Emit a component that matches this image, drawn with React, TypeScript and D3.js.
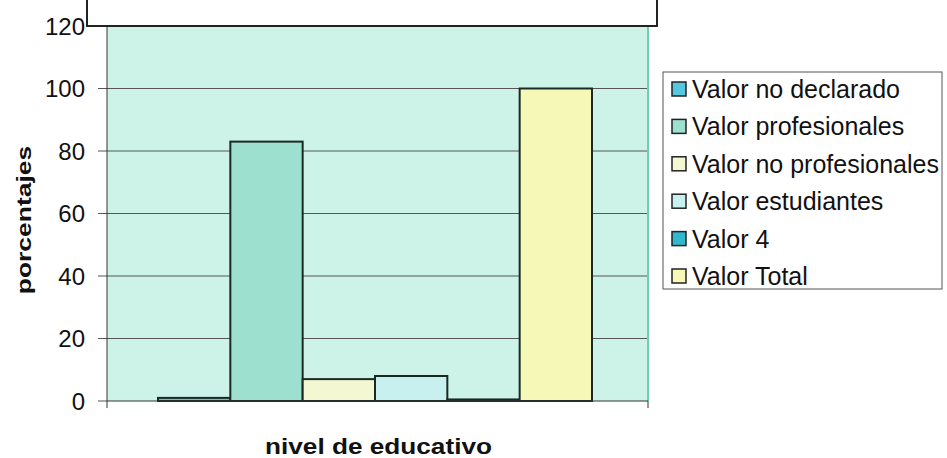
import React from "react";
import * as d3 from "d3";

const categories = ["nivel de educativo"];
const seriesNames = [
  "Valor no declarado",
  "Valor profesionales",
  "Valor no profesionales",
  "Valor estudiantes",
  "Valor 4",
  "Valor Total",
];
const seriesValues = [1, 83, 7, 8, 0.5, 100];
const seriesColors = ["#55c8e0", "#9de0d0", "#f4f8d2", "#c8f0ee", "#30b8cc", "#f6f8b8"];
const yTicks = [0, 20, 40, 60, 80, 100, 120];

export default function App() {
  const W = 947, H = 458;
  const left = 107, right = 648, top = 26, bottom = 401;
  const y = d3.scaleLinear().domain([0, 120]).range([bottom, top]);
  const x0 = d3.scaleBand().domain(categories).range([left, right]).paddingInner(0).paddingOuter(0.1);
  const x1 = d3.scaleBand().domain(seriesNames).range([158, 592]).padding(0);
  const font = "'Liberation Sans', Arial, sans-serif";
  return (
    <svg width={W} height={H} style={{ position: "absolute", left: 0, top: 0, background: "#fff" }} fontFamily={font}>
      <rect x={left} y={top} width={right - left} height={bottom - top} fill="#cdf2e8" />
      {yTicks.map((t) => (
        <g key={t}>
          {t > 0 && t < 120 && (
            <line x1={left} x2={right} y1={y(t)} y2={y(t)} stroke="#555" strokeWidth={1} />
          )}
          <line x1={left - 9} x2={left} y1={y(t)} y2={y(t)} stroke="#555" strokeWidth={1} />
          <text x={85} y={y(t)} dy="0.36em" textAnchor="end" fontSize={24} fill="#111">
            {t}
          </text>
        </g>
      ))}
      {seriesNames.map((s, i) => (
        <rect
          key={s}
          x={x1(s)}
          y={y(seriesValues[i])}
          width={x1.bandwidth()}
          height={y(0) - y(seriesValues[i])}
          fill={seriesColors[i]}
          stroke="#1a2a22"
          strokeWidth={2}
        />
      ))}
      <line x1={right} x2={right} y1={top} y2={bottom} stroke="#6cd0b0" strokeWidth={2} />
      <line x1={left} x2={left} y1={top} y2={bottom + 7} stroke="#333" strokeWidth={1} />
      <line x1={left} x2={right} y1={bottom} y2={bottom} stroke="#333" strokeWidth={1} />
      <line x1={right} x2={right} y1={bottom} y2={bottom + 7} stroke="#333" strokeWidth={1} />
      {/* clipped title box */}
      <rect x={87} y={-10} width={570} height={36} fill="#fff" stroke="#222" strokeWidth={2} />
      <text
        transform={`translate(31,220) rotate(-90) scale(1.26,1)`}
        textAnchor="middle"
        fontSize={21}
        fontWeight="bold"
        fill="#111"
      >
        porcentajes
      </text>
      <text
        transform={`translate(${x0(categories[0])! + x0.bandwidth() / 2 + 1},454) scale(1.19,1)`}
        textAnchor="middle"
        fontSize={22}
        fontWeight="bold"
        fill="#111"
      >
        {categories[0]}
      </text>
      <rect x={663} y={72} width={279} height={217} fill="#fff" stroke="#555" strokeWidth={1} />
      {seriesNames.map((s, i) => (
        <g key={s} transform={`translate(672,${89 + i * 37.4})`}>
          <rect x={0} y={-7} width={14} height={14} fill={seriesColors[i]} stroke="#222" strokeWidth={1.5} />
          <text x={20} y={0} dy="0.36em" fontSize={25} fill="#111">
            {s}
          </text>
        </g>
      ))}
    </svg>
  );
}
